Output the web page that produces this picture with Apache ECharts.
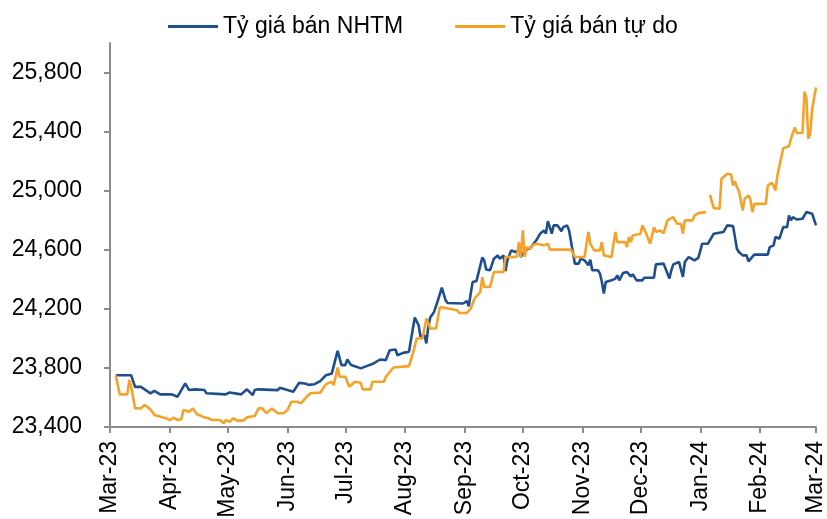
<!DOCTYPE html>
<html>
<head>
<meta charset="utf-8">
<script src="https://cdn.jsdelivr.net/npm/echarts@6/dist/echarts.min.js"></script>
<style>
  html, body { margin: 0; padding: 0; background: #fff; }
  #chart { width: 827px; height: 519px; }
</style>
</head>
<body>
<div id="chart"></div>
<script>
// days are counted from 1 Mar 2023
const startYear = 2023, startMonth = 2, startDay = 1;
const monthNames = ['Jan', 'Feb', 'Mar', 'Apr', 'May', 'Jun', 'Jul', 'Aug', 'Sep', 'Oct', 'Nov', 'Dec'];
const seriesNames = ['Tỷ giá bán NHTM', 'Tỷ giá bán tự do'];
const yTicks = [23400, 23800, 24200, 24600, 25000, 25400, 25800];

// Tỷ giá bán NHTM
const nhtmDay = [3, 11, 13, 16, 21, 23, 26, 32, 33, 35, 36, 39, 41, 44, 49, 50, 60, 62, 68, 71, 72, 74, 75, 77, 87, 88,
  92, 95, 98, 101, 103, 106, 109, 112, 115, 118, 120, 122, 123, 125, 128, 130, 133, 136, 140, 143, 145, 148, 149, 152,
  155, 156, 158, 160, 161, 163, 164, 165, 166, 168, 169, 170, 172, 174, 175, 183, 185, 186, 187, 188, 190, 193, 194,
  195, 197, 199, 201, 202, 204, 205, 206, 208, 210, 212, 213, 215, 218, 219, 221, 223, 225, 226, 227, 228, 229, 230,
  232, 234, 235, 237, 238, 239, 241, 243, 244, 246, 248, 249, 250, 253, 254, 255, 256, 257, 260, 262, 263, 264, 266,
  268, 270, 271, 273, 276, 277, 282, 283, 287, 288, 290, 291, 292, 295, 297, 298, 300, 303, 305, 307, 310, 313, 318,
  320, 323, 325, 326, 328, 330, 331, 334, 341, 342, 344, 345, 346, 347, 349, 351, 352, 353, 354, 356, 359, 361, 362,
  364, 365, 366];
const nhtmRate = [23750, 23750, 23672, 23672, 23628, 23645, 23621, 23621, 23628, 23605, 23628, 23695, 23650, 23655,
  23650, 23628, 23621, 23634, 23621, 23655, 23655, 23616, 23650, 23655, 23650, 23665, 23650, 23639, 23699, 23695,
  23685, 23690, 23711, 23751, 23763, 23915, 23819, 23819, 23857, 23819, 23807, 23797, 23812, 23826, 23857, 23853,
  23920, 23925, 23886, 23902, 23909, 23988, 24141, 24089, 24010, 24022, 23966, 24078, 24141, 24179, 24190, 24258,
  24344, 24258, 24240, 24236, 24253, 24218, 24303, 24382, 24389, 24547, 24528, 24466, 24461, 24540, 24562, 24540,
  24562, 24456, 24528, 24596, 24585, 24596, 24551, 24596, 24614, 24618, 24664, 24709, 24731, 24709, 24794, 24753,
  24709, 24765, 24765, 24726, 24753, 24765, 24731, 24735, 24506, 24506, 24540, 24528, 24495, 24533, 24461, 24461,
  24439, 24382, 24303, 24382, 24393, 24405, 24427, 24393, 24443, 24449, 24420, 24434, 24393, 24393, 24411, 24411,
  24501, 24506, 24501, 24405, 24461, 24501, 24517, 24416, 24517, 24551, 24528, 24545, 24641, 24641, 24709, 24720,
  24765, 24760, 24607, 24585, 24562, 24562, 24522, 24567, 24567, 24618, 24630, 24686, 24686, 24675, 24753, 24753,
  24832, 24799, 24821, 24805, 24810, 24855, 24866, 24844, 24837, 24765];

// Tỷ giá bán tự do (null = no quote)
const tudoDay = [3, 5, 9, 10, 11, 13, 16, 18, 21, 23, 29, 31, 33, 35, 37, 38, 41, 43, 45, 48, 51, 53, 57, 59, 60, 62,
  64, 66, 67, 69, 71, 75, 77, 79, 81, 84, 85, 87, 90, 92, 94, 97, 99, 102, 104, 107, 109, 111, 112, 115, 116, 118, 119,
  122, 124, 127, 130, 131, 135, 136, 142, 143, 147, 155, 157, 159, 162, 164, 165, 166, 169, 171, 180, 181, 185, 187,
  189, 192, 193, 194, 197, 199, 204, 205, 209, 211, 212, 213, 214, 215, 216, 218, 219, 221, 225, 227, 228, 239, 241,
  246, 248, 249, 251, 254, 255, 256, 260, 262, 263, 267, 268, 269, 270, 271, 275, 276, 278, 280, 282, 283, 285, 287,
  289, 290, 292, 294, 296, 297, 298, 302, 303, 305, 309, 310, 311, 312, 313, 316, 317, 320, 321, 322, 323, 324, 325,
  326, 327, 328, 329, 330, 331, 332, 333, 334, 340, 341, 343, 344, 345, 346, 349, 352, 353, 354, 355, 356, 359, 360,
  361, 362, 363, 364, 365, 366];
const tudoRate = [23750, 23621, 23621, 23718, 23672, 23526, 23526, 23549, 23519, 23481, 23459, 23447, 23463, 23447,
  23452, 23515, 23503, 23526, 23488, 23470, 23459, 23447, 23447, 23425, 23447, 23436, 23459, 23443, 23454, 23443,
  23465, 23474, 23526, 23526, 23493, 23526, 23522, 23493, 23493, 23515, 23571, 23571, 23560, 23605, 23628, 23632,
  23632, 23672, 23690, 23706, 23684, 23803, 23740, 23740, 23672, 23706, 23699, 23655, 23655, 23706, 23706, 23740,
  23803, 23812, 23898, 23999, 23999, 24134, 24134, 24067, 24067, 24213, 24190, 24172, 24172, 24202, 24270, 24314,
  24416, 24348, 24348, 24449, 24449, 24551, 24551, 24555, 24652, 24551, 24731, 24551, 24618, 24607, 24630, 24641,
  24630, 24641, 24601, 24601, 24551, 24551, 24720, 24641, 24596, 24596, 24652, 24562, 24551, 24720, 24652, 24652,
  24618, 24686, 24652, 24697, 24709, 24765, 24709, 24641, 24753, 24720, 24731, 24713, 24799, 24788, 24821, 24776,
  24776, 24709, 24799, 24799, 24832, 24848, 24855, null, 24972, 24979, 24882, 24878, 25081, 25115, 25121, 25109,
  25035, 25062, 25024, 25001, 24995, 24866, 24945, 24945, 24968, 24941, 24855, 24911, 24911, 25035, 25053, 25035,
  25001, 25103, 25287, 25301, 25351, 25362, 25429, 25391, 25391, 25670, 25632, 25351, 25384, 25553, 25553, 25699];

function dayToTime(d) {
  return new Date(startYear, startMonth, startDay + d).getTime();
}
function pairs(days, values) {
  return days.map((d, i) => [dayToTime(d), values[i]]);
}
// first day of every month, Mar-23 .. Mar-24
const monthTicks = [];
for (let m = 0; m <= 12; m++) monthTicks.push(new Date(startYear, startMonth + m, 1).getTime());

const chart = echarts.init(document.getElementById('chart'));
const font = 'Liberation Sans, Arial, sans-serif';
const axisGray = '#8c8c8c';

chart.setOption({
  animation: false,
  textStyle: { fontFamily: font },
  legend: {
    data: seriesNames,
    left: 163,
    top: 10,
    icon: 'rect',
    itemWidth: 50,
    itemHeight: 3,
    itemGap: 52,
    textStyle: { fontSize: 23, color: '#000', fontFamily: font }
  },
  grid: { left: 110, right: 11, top: 43, bottom: 92, containLabel: false, outerBoundsMode: 'none' },
  xAxis: {
    type: 'value',
    min: monthTicks[0],
    max: monthTicks[12],
    axisLine: { lineStyle: { color: axisGray, width: 2 } },
    axisTick: { show: true, length: 6, customValues: monthTicks, lineStyle: { color: axisGray, width: 2 } },
    splitLine: { show: false },
    axisLabel: {
      customValues: monthTicks,
      rotate: 90,
      margin: 14,
      fontSize: 23,
      color: '#000',
      fontFamily: font,
      hideOverlap: false,
      formatter: (v) => {
        const d = new Date(v);
        return monthNames[d.getMonth()] + '-' + String(d.getFullYear()).slice(2);
      }
    }
  },
  yAxis: {
    type: 'value',
    min: 23400,
    max: 26000,
    axisLine: { show: true, lineStyle: { color: axisGray, width: 2 } },
    axisTick: { show: true, length: 6, customValues: yTicks, lineStyle: { color: axisGray, width: 2 } },
    splitLine: { show: false },
    axisLabel: {
      customValues: yTicks,
      margin: 28,
      fontSize: 23,
      color: '#000',
      fontFamily: font,
      formatter: (v) => v.toLocaleString('en-US')
    }
  },
  series: [
    {
      name: seriesNames[0],
      type: 'line',
      data: pairs(nhtmDay, nhtmRate),
      showSymbol: false,
      lineStyle: { color: '#1f4e8f', width: 2.6 },
      itemStyle: { color: '#1f4e8f' }
    },
    {
      name: seriesNames[1],
      type: 'line',
      data: pairs(tudoDay, tudoRate),
      showSymbol: false,
      connectNulls: false,
      lineStyle: { color: '#f5a22b', width: 2.6 },
      itemStyle: { color: '#f5a22b' }
    }
  ]
});
</script>
</body>
</html>
